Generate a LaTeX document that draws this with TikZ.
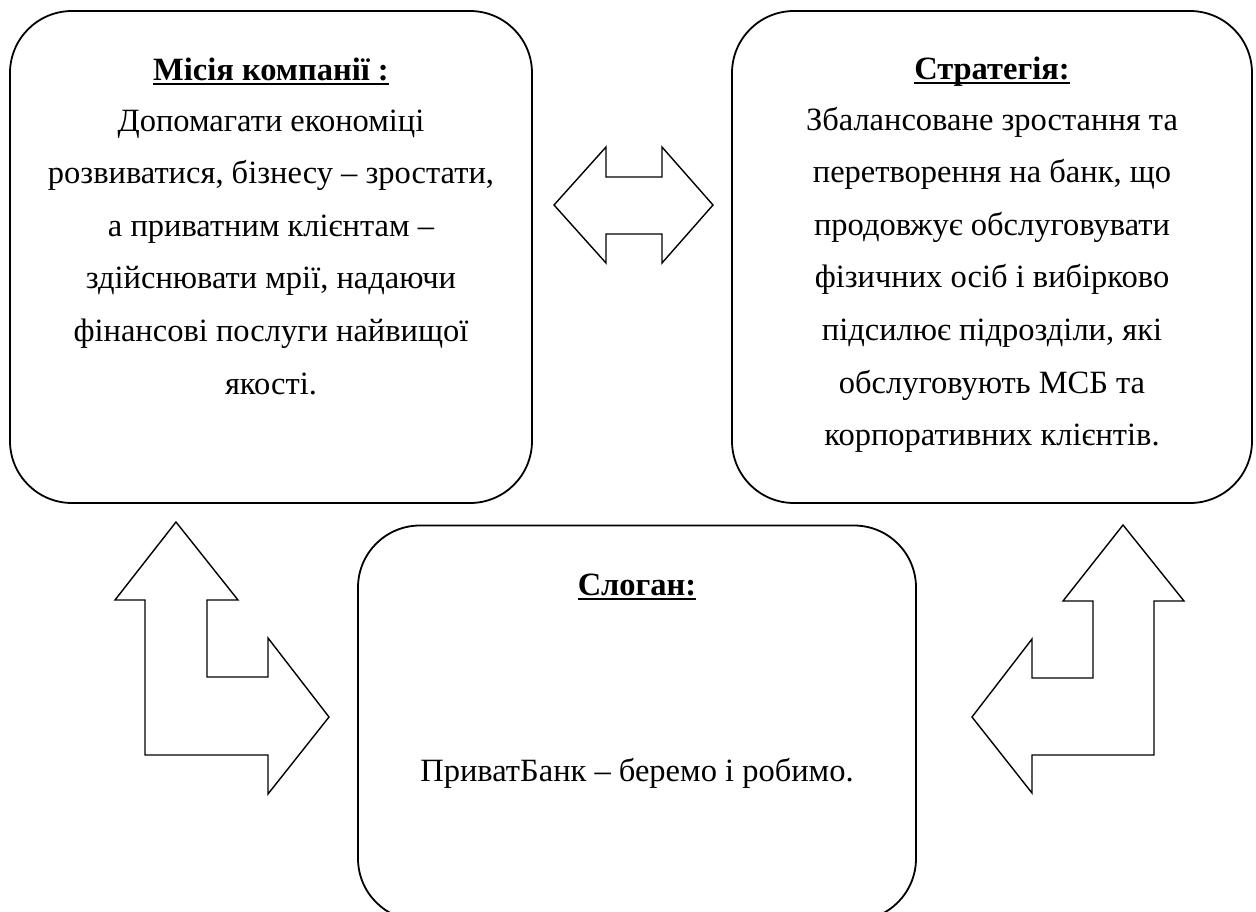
\documentclass[tikz,border=0pt]{standalone}
\usepackage{fontspec}
\setmainfont{Liberation Serif}
\newcommand\ulbold[1]{\setbox0\hbox{\bfseries #1}\rlap{\rule[-5pt]{\wd0}{2.4pt}}\box0}
\tikzset{
  box/.style={draw, line width=1.8pt, rounded corners=62pt, inner sep=0pt},
  txt/.style={anchor=base, inner sep=0pt, font=\fontsize{32.5}{38}\selectfont},
  bigarrow/.style={draw, line width=1.4pt, line join=miter, fill=white}
}
\begin{document}
\begin{tikzpicture}[x=1pt,y=-1pt]
\clip (0,0) rectangle (1256,911);
\fill[white] (0,0) rectangle (1256,911);
% boxes
\node[box, minimum width=522pt, minimum height=492pt] (mission) at (271,257) {};
\node[box, minimum width=520pt, minimum height=492pt] (strategy) at (992,257) {};
\node[box, minimum width=558pt, minimum height=395pt] (slogan) at (637,723) {};
% mission text
\node[txt] (m0) at (271,80) {\ulbold{Місія компанії :}};
\node[txt] (m1) at (271,131) {Допомагати економіці};
\node[txt] (m2) at (271,183.6) {розвиватися, бізнесу – зростати,};
\node[txt] (m3) at (271,236.2) {а приватним клієнтам –};
\node[txt] (m4) at (271,288.8) {здійснювати мрії, надаючи};
\node[txt] (m5) at (271,341.4) {фінансові послуги найвищої};
\node[txt] (m6) at (271,394) {якості.};
% strategy text
\node[txt] (s0) at (992,79) {\ulbold{Стратегія:}};
\node[txt] (s1) at (992,130) {Збалансоване зростання та};
\node[txt] (s2) at (992,182.6) {перетворення на банк, що};
\node[txt] (s3) at (992,235.2) {продовжує обслуговувати};
\node[txt] (s4) at (992,287.8) {фізичних осіб і вибірково};
\node[txt] (s5) at (992,340.4) {підсилює підрозділи, які};
\node[txt] (s6) at (992,393) {обслуговують МСБ та};
\node[txt] (s7) at (992,445.6) {корпоративних клієнтів.};
% slogan text
\node[txt] (g0) at (637,595) {\ulbold{Слоган:}};
\node[txt] (g1) at (637,781) {ПриватБанк – беремо і робимо.};
% arrows
\draw[bigarrow] (554,205) -- (606,147) -- (606,177) -- (662,177) -- (662,147) -- (713,205)
  -- (662,263) -- (662,234) -- (606,234) -- (606,263) -- cycle;
\draw[bigarrow] (176,522) -- (238,600) -- (207,600) -- (207,677) -- (268,677) -- (268,638)
  -- (329,717) -- (268,794) -- (268,755) -- (145,755) -- (145,600) -- (115,600) -- cycle;
\draw[bigarrow] (1123,525) -- (1184,601) -- (1154,601) -- (1154,755) -- (1032,755) -- (1032,793)
  -- (972,717) -- (1032,639) -- (1032,678) -- (1093,678) -- (1093,601) -- (1063,601) -- cycle;
\end{tikzpicture}
\end{document}
